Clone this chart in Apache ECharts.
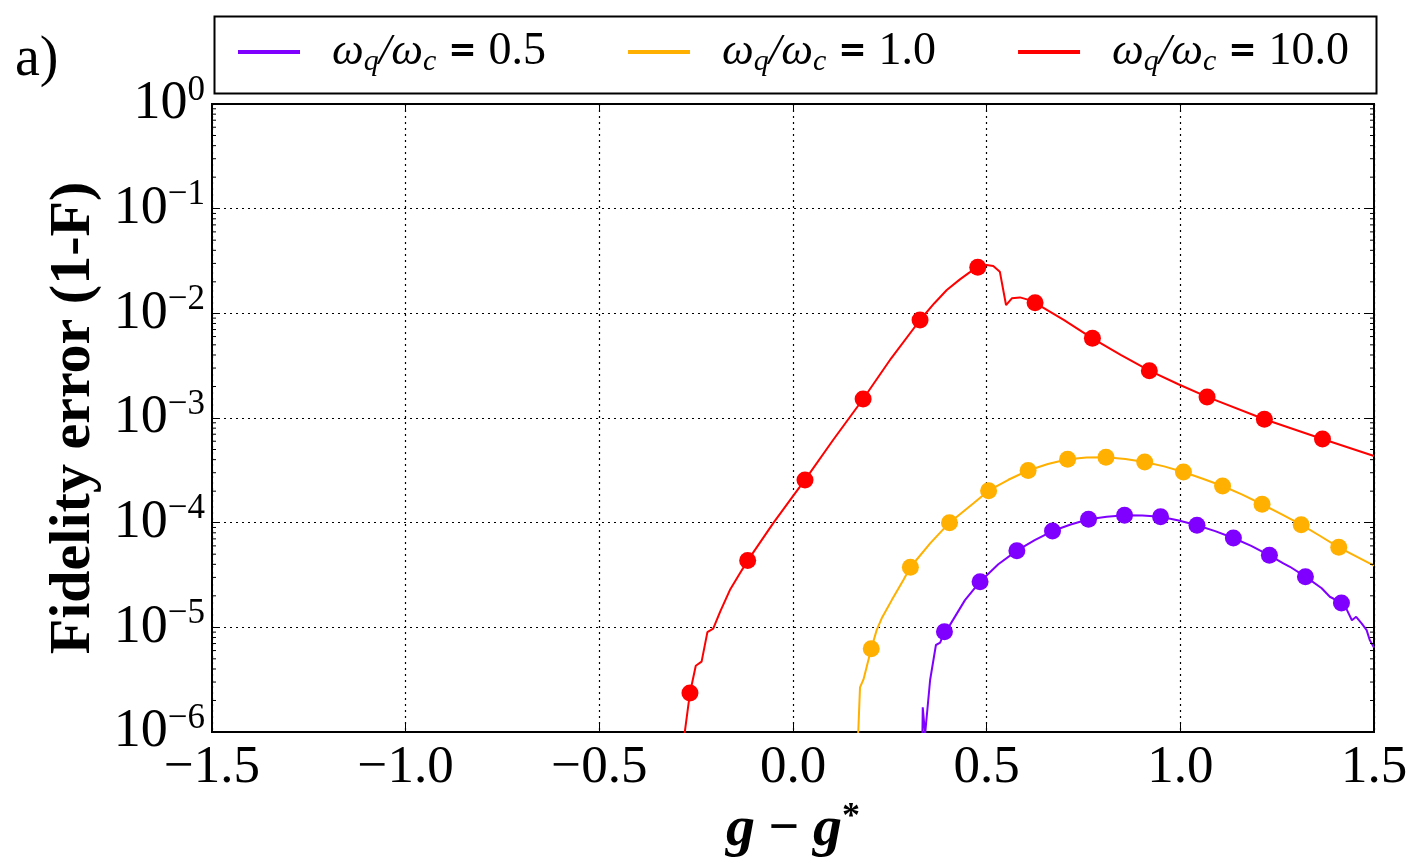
<!DOCTYPE html>
<html>
<head>
<meta charset="utf-8">
<title>Fidelity error</title>
<script src="https://cdn.jsdelivr.net/npm/echarts@6.0.0/dist/echarts.min.js"></script>
<style>
  html, body { margin: 0; padding: 0; background: #fff; }
  #chart { width: 1419px; height: 859px; }
</style>
</head>
<body>
<div id="chart"></div>
<script>
// x ticks (g - g*) and y decades
const xTicks = [-1.5, -1.0, -0.5, 0.0, 0.5, 1.0, 1.5]
const yDecades = [-6, -5, -4, -3, -2, -1, 0]

const seriesNames = ['ωq/ωc = 0.5', 'ωq/ωc = 1.0', 'ωq/ωc = 10.0']
const ratioLabels = ['0.5', '1.0', '10.0']
const colors = ['#7f00ff', '#ffb000', '#ff0000']

// wq/wc = 0.5 (purple)
const purpleLine = [
  [0.334, 9e-7], [0.335, 1.72e-6], [0.341, 9.5e-7], [0.354, 3.14e-6], [0.369, 6.78e-6],
  [0.380, 7.13e-6], [0.391, 9.08e-6], [0.405, 1.05e-5], [0.444, 1.82e-5], [0.483, 2.73e-5],
  [0.530, 4.0e-5], [0.578, 5.40e-5], [0.624, 6.8e-5], [0.670, 8.32e-5], [0.717, 9.6e-5],
  [0.763, 1.08e-4], [0.810, 1.14e-4], [0.856, 1.18e-4], [0.902, 1.17e-4], [0.949, 1.14e-4],
  [0.996, 1.05e-4], [1.043, 9.44e-5], [1.090, 8.3e-5], [1.137, 7.14e-5], [1.183, 6.0e-5],
  [1.230, 4.88e-5], [1.266, 4.08e-5], [1.283, 3.79e-5], [1.323, 3.05e-5], [1.365, 2.36e-5],
  [1.386, 1.96e-5], [1.416, 1.71e-5], [1.430, 1.47e-5], [1.443, 1.17e-5], [1.454, 1.26e-5],
  [1.468, 1.09e-5], [1.481, 9.4e-6], [1.489, 7.57e-6], [1.500, 6.4e-6]
]
const purpleMarks = [
  [0.391, 9.08e-6], [0.483, 2.73e-5], [0.578, 5.40e-5], [0.670, 8.32e-5], [0.763, 1.08e-4],
  [0.856, 1.18e-4], [0.949, 1.14e-4], [1.043, 9.44e-5], [1.137, 7.14e-5], [1.230, 4.88e-5],
  [1.323, 3.05e-5], [1.416, 1.71e-5]
]

// wq/wc = 1.0 (orange)
const orangeLine = [
  [0.168, 9e-7], [0.173, 2.67e-6], [0.182, 3.18e-6], [0.202, 6.25e-6], [0.216, 9.4e-6],
  [0.229, 1.22e-5], [0.255, 1.82e-5], [0.285, 2.83e-5], [0.303, 3.75e-5], [0.354, 6.35e-5],
  [0.404, 1.0e-4], [0.466, 1.53e-4], [0.505, 2.02e-4], [0.556, 2.57e-4], [0.607, 3.15e-4],
  [0.658, 3.63e-4], [0.709, 4.03e-4], [0.758, 4.19e-4], [0.808, 4.21e-4], [0.858, 4.05e-4],
  [0.908, 3.80e-4], [0.958, 3.45e-4], [1.008, 3.05e-4], [1.058, 2.63e-4], [1.109, 2.24e-4],
  [1.160, 1.85e-4], [1.211, 1.50e-4], [1.262, 1.2e-4], [1.312, 9.57e-5], [1.360, 7.5e-5],
  [1.409, 5.82e-5], [1.500, 3.88e-5]
]
const orangeMarks = [
  [0.202, 6.25e-6], [0.303, 3.75e-5], [0.404, 1.0e-4], [0.505, 2.02e-4], [0.607, 3.15e-4],
  [0.709, 4.03e-4], [0.808, 4.21e-4], [0.908, 3.80e-4], [1.008, 3.05e-4], [1.109, 2.24e-4],
  [1.211, 1.50e-4], [1.312, 9.57e-5], [1.409, 5.82e-5]
]

// wq/wc = 10.0 (red)
const redLine = [
  [-0.281, 9e-7], [-0.266, 2.36e-6], [-0.251, 4.3e-6], [-0.236, 4.7e-6], [-0.221, 9.0e-6],
  [-0.206, 9.7e-6], [-0.188, 1.41e-5], [-0.163, 2.27e-5], [-0.137, 3.28e-5], [-0.117, 4.34e-5],
  [-0.051, 9.9e-5], [-0.001, 1.77e-4], [0.031, 2.56e-4], [0.104, 6.2e-4], [0.181, 1.52e-3],
  [0.253, 3.7e-3], [0.328, 8.64e-3], [0.365, 1.25e-2], [0.397, 1.67e-2], [0.431, 2.11e-2],
  [0.455, 2.45e-2], [0.477, 2.75e-2], [0.500, 2.9e-2], [0.517, 2.83e-2], [0.534, 2.5e-2],
  [0.550, 1.2e-2], [0.565, 1.39e-2], [0.586, 1.42e-2], [0.604, 1.36e-2], [0.625, 1.26e-2],
  [0.700, 8.6e-3], [0.773, 5.77e-3], [0.846, 4.0e-3], [0.920, 2.83e-3], [0.995, 2.1e-3],
  [1.069, 1.59e-3], [1.217, 9.72e-4], [1.367, 6.31e-4], [1.500, 4.34e-4]
]
const redMarks = [
  [-0.266, 2.36e-6], [-0.117, 4.34e-5], [0.031, 2.56e-4], [0.181, 1.52e-3], [0.328, 8.64e-3],
  [0.477, 2.75e-2], [0.625, 1.26e-2], [0.773, 5.77e-3], [0.920, 2.83e-3], [1.069, 1.59e-3],
  [1.217, 9.72e-4], [1.367, 6.31e-4]
]

const lines = [purpleLine, orangeLine, redLine]
const marks = [purpleMarks, orangeMarks, redMarks]

// log minor ticks 2..9 x 10^n
const minorTicks = []
for (let d = yDecades[0]; d < yDecades[yDecades.length - 1]; d++) {
  for (let k = 2; k <= 9; k++) minorTicks.push([xTicks[0], k * Math.pow(10, d)])
}

const serif = 'Liberation Serif'

const chart = echarts.init(document.getElementById('chart'))

const supDigits = e => (e < 0 ? '−' + (-e) : String(e))

const series = []
lines.forEach((d, i) => {
  series.push({
    name: seriesNames[i],
    type: 'line',
    data: d,
    symbol: 'none',
    color: colors[i],
    lineStyle: { width: 2, color: colors[i] },
    z: 3,
    animation: false
  })
})
marks.forEach((d, i) => {
  series.push({
    name: 'marks' + i,
    type: 'scatter',
    data: d,
    symbol: 'circle',
    symbolSize: 17,
    itemStyle: { color: colors[i], opacity: 1 },
    z: 4,
    animation: false
  })
})
series.push({
  name: 'minor',
  type: 'custom',
  data: minorTicks,
  encode: { x: 0, y: 1 },
  silent: true,
  z: 5,
  clip: false,
  renderItem: (params, api) => {
    const v = api.value(1)
    const l = api.coord([xTicks[0], v])
    const r = api.coord([xTicks[xTicks.length - 1], v])
    return {
      type: 'group',
      children: [
        { type: 'line', shape: { x1: l[0], y1: l[1], x2: l[0] + 4, y2: l[1] }, style: { stroke: '#000', lineWidth: 1 } },
        { type: 'line', shape: { x1: r[0], y1: r[1], x2: r[0] - 4, y2: r[1] }, style: { stroke: '#000', lineWidth: 1 } }
      ]
    }
  },
  animation: false
})

const option = {
  backgroundColor: '#fff',
  animation: false,
  grid: {
    left: 212, right: 45, top: 104, bottom: 127,
    show: true, borderColor: '#000', borderWidth: 2,
    outerBoundsMode: 'none'
  },
  graphic: [
    {
      type: 'rect', left: 212, top: 14, silent: true,
      shape: { width: 1162, height: 77 },
      style: { fill: 'none', stroke: '#000', lineWidth: 2 }
    },
    {
      type: 'text', left: 15, top: 32,
      style: { text: 'a)', font: '56px "Liberation Serif"', fill: '#000' }
    }
  ],
  legend: {
    data: seriesNames,
    left: 238, top: 27, padding: 0,
    icon: 'rect', itemWidth: 62, itemHeight: 4,
    itemGap: 82,
    formatter: name => {
      const r = ratioLabels[seriesNames.indexOf(name)]
      return '{sp|}{w|ω}{sb|q}{w|/ω}{sb|c}{eq| = }{n|' + r + '}'
    },
    textStyle: {
      lineHeight: 50,
      rich: {
        sp: { width: 27 },
        w: { fontFamily: serif, fontStyle: 'italic', fontSize: 45, color: '#000' },
        sb: { fontFamily: serif, fontStyle: 'italic', fontSize: 30, verticalAlign: 'bottom', color: '#000' },
        eq: { fontFamily: 'DejaVu Sans', fontWeight: 'bold', fontSize: 34, color: '#000' },
        n: { fontFamily: serif, fontSize: 46, color: '#000' }
      }
    }
  },
  xAxis: [
    {
      type: 'value', min: -1.5, max: 1.5, interval: 0.5,
      axisLine: { show: true, onZero: false, lineStyle: { color: '#000', width: 2 } },
      axisTick: { show: true, inside: true, length: 8, lineStyle: { color: '#000', width: 1 } },
      axisLabel: {
        margin: 10, color: '#000', fontFamily: serif, fontSize: 53,
        formatter: v => v.toFixed(1).replace('-', '−')
      },
      splitLine: { show: true, lineStyle: { color: '#000', type: [2, 4], width: 1.2 } },
      name: '{g|g}{m| − }{g|g}{s|*}',
      nameLocation: 'middle', nameGap: 60,
      nameTextStyle: {
        lineHeight: 60,
        rich: {
          g: { fontFamily: serif, fontStyle: 'italic', fontWeight: 'bold', fontSize: 58, color: '#000' },
          m: { fontFamily: serif, fontWeight: 'bold', fontSize: 54, color: '#000' },
          s: { fontFamily: serif, fontWeight: 'bold', fontSize: 36, verticalAlign: 'top', color: '#000' }
        }
      }
    },
    {
      type: 'value', position: 'top', min: -1.5, max: 1.5, interval: 0.5,
      axisLine: { show: true, onZero: false, lineStyle: { color: '#000', width: 2 } },
      axisTick: { show: true, inside: true, length: 8, lineStyle: { color: '#000', width: 1 } },
      axisLabel: { show: false },
      splitLine: { show: false }
    }
  ],
  yAxis: [
    {
      type: 'log', logBase: 10, min: 1e-6, max: 1,
      axisLine: { show: true, onZero: false, lineStyle: { color: '#000', width: 2 } },
      axisTick: { show: true, inside: true, length: 8, lineStyle: { color: '#000', width: 1 } },
      axisLabel: {
        margin: 7,
        formatter: v => '{b|10}{sup|' + supDigits(Math.round(Math.log10(v))) + '}',
        rich: {
          b: { fontFamily: serif, fontSize: 54, color: '#000', lineHeight: 62 },
          sup: { fontFamily: serif, fontSize: 35, color: '#000', verticalAlign: 'top', lineHeight: 62 }
        }
      },
      splitLine: { show: true, lineStyle: { color: '#000', type: [2, 4], width: 1.2 } },
      name: 'Fidelity error (1-F)',
      nameLocation: 'middle', nameGap: 106,
      nameTextStyle: { fontFamily: serif, fontWeight: 'bold', fontSize: 58, color: '#000' }
    },
    {
      type: 'log', logBase: 10, min: 1e-6, max: 1, position: 'right',
      axisLine: { show: true, onZero: false, lineStyle: { color: '#000', width: 2 } },
      axisTick: { show: true, inside: true, length: 8, lineStyle: { color: '#000', width: 1 } },
      axisLabel: { show: false },
      splitLine: { show: false }
    }
  ],
  series: series
}

chart.setOption(option)
</script>
</body>
</html>
